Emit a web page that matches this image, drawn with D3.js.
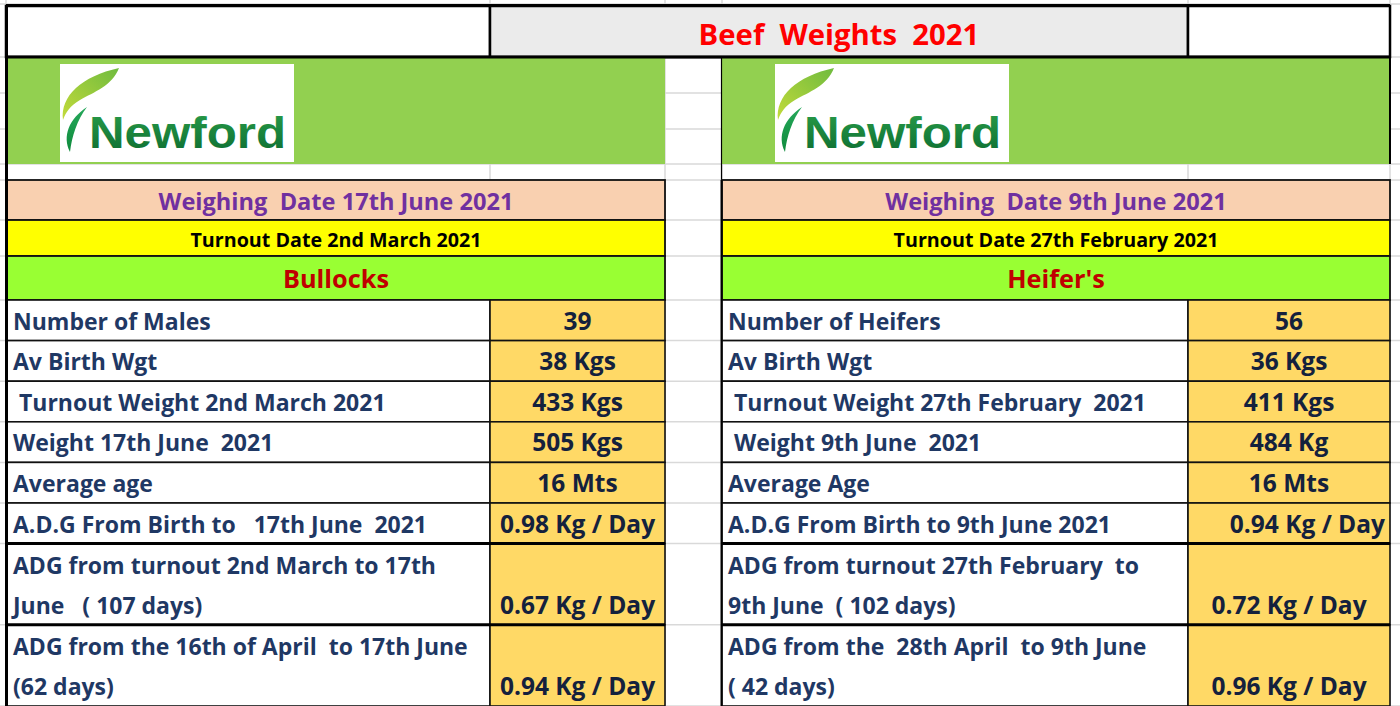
<!DOCTYPE html>
<html><head><meta charset="utf-8">
<script src="https://cdn.jsdelivr.net/npm/d3@7"></script>
<style>
body{margin:0;background:#fff;}
svg{display:block;}
text{font-family:"Open Sans",Lato,sans-serif;font-weight:700;white-space:pre;}
</style>
</head><body>
<svg id="c" width="1400" height="706"></svg>
<script>
// ---------- data ----------
const title = "Beef  Weights  2021";
const logoText = "Newford";
const groups = ["Bullocks", "Heifer's"];
const weighingDates = ["Weighing  Date 17th June 2021", "Weighing  Date 9th June 2021"];
const turnoutDates = ["Turnout Date 2nd March 2021", "Turnout Date 27th February 2021"];
const bullockLabels = [
  ["Number of Males"],
  ["Av Birth Wgt"],
  [" Turnout Weight 2nd March 2021"],
  ["Weight 17th June  2021"],
  ["Average age"],
  ["A.D.G From Birth to   17th June  2021"],
  ["ADG from turnout 2nd March to 17th", "June   ( 107 days)"],
  ["ADG from the 16th of April  to 17th June", "(62 days)"]
];
const bullockValues = ["39", "38 Kgs", "433 Kgs", "505 Kgs", "16 Mts", "0.98 Kg / Day", "0.67 Kg / Day", "0.94 Kg / Day"];
const heiferLabels = [
  ["Number of Heifers"],
  ["Av Birth Wgt"],
  [" Turnout Weight 27th February  2021"],
  [" Weight 9th June  2021"],
  ["Average Age"],
  ["A.D.G From Birth to 9th June 2021"],
  ["ADG from turnout 27th February  to", "9th June  ( 102 days)"],
  ["ADG from the  28th April  to 9th June", "( 42 days)"]
];
const heiferValues = ["56", "36 Kgs", "411 Kgs", "484 Kg", "16 Mts", "0.94 Kg / Day", "0.72 Kg / Day", "0.96 Kg / Day"];
const rowSpans = [1, 1, 1, 1, 1, 1, 2, 2];

// ---------- layout ----------
const svg = d3.select("#c");
const W = 1400, H = 706;
const navy = "#1f3864";
const panels = [
  {x0: 7, split: 490, x1: 665, labels: bullockLabels, values: bullockValues, logoX: 60, endAlign: []},
  {x0: 722, split: 1188, x1: 1390, labels: heiferLabels, values: heiferValues, logoX: 775, endAlign: [5]}
];
panels.forEach((p, i) => { p.group = groups[i]; p.weigh = weighingDates[i]; p.turn = turnoutDates[i]; });

const rowStarts = [0, ...d3.cumsum(rowSpans)];
const yRow = d3.scaleLinear().domain([0, d3.sum(rowSpans)]).range([300, 706]);

// background spreadsheet gridlines
const gridY = [4, 57, 93, 129, 164, 180, 220, 256, ...rowStarts.map(yRow)];
const gridX = [6, 490, 665, 722, 1188, 1390];
svg.append("g").selectAll("line.h").data(gridY).join("line")
  .attr("x1", 0).attr("x2", W).attr("y1", d => d).attr("y2", d => d)
  .attr("stroke", "#d9d9d9").attr("stroke-width", 1.5);
svg.append("g").selectAll("line.v").data(gridX).join("line")
  .attr("y1", 0).attr("y2", H).attr("x1", d => d).attr("x2", d => d)
  .attr("stroke", "#d9d9d9").attr("stroke-width", 1.5);

// top title row
const topCells = [[6, 490, "#ffffff"], [490, 1188, "#ebebeb"], [1188, 1390, "#ffffff"]];
svg.append("g").selectAll("rect").data(topCells).join("rect")
  .attr("x", d => d[0]).attr("y", 6).attr("width", d => d[1] - d[0]).attr("height", 51)
  .attr("fill", d => d[2]).attr("stroke", "#000").attr("stroke-width", 2.5);
svg.append("text").attr("x", 839).attr("y", 45).attr("text-anchor", "middle")
  .attr("font-size", 29.3).attr("fill", "#ff0000").text(title);

// gradients for logo
const defs = svg.append("defs");
const g1 = defs.append("linearGradient").attr("id", "txtGrad").attr("x1", 0).attr("y1", 0).attr("x2", 0).attr("y2", 1);
g1.append("stop").attr("offset", "0%").attr("stop-color", "#2a9f4a");
g1.append("stop").attr("offset", "100%").attr("stop-color", "#0b6a30");
const g2 = defs.append("linearGradient").attr("id", "leafTop").attr("x1", 0).attr("y1", 1).attr("x2", 1).attr("y2", 0);
g2.append("stop").attr("offset", "0%").attr("stop-color", "#c2da3a");
g2.append("stop").attr("offset", "100%").attr("stop-color", "#6fbb3f");
const g3 = defs.append("linearGradient").attr("id", "leafBot").attr("x1", 0).attr("y1", 1).attr("x2", 0).attr("y2", 0);
g3.append("stop").attr("offset", "0%").attr("stop-color", "#0f8a3c");
g3.append("stop").attr("offset", "100%").attr("stop-color", "#25a85a");

const P = svg.selectAll("g.panel").data(panels).join("g").attr("class", "panel");

// green logo band
P.append("rect").attr("x", d => d.x0).attr("y", 58).attr("width", d => d.x1 - d.x0).attr("height", 106)
  .attr("fill", "#92d050");
const logo = P.append("g").attr("transform", d => `translate(${d.logoX},64)`);
logo.append("rect").attr("width", 234).attr("height", 98).attr("fill", "#fff");
logo.append("path").attr("d", "M3,56 C0,32 22,12 59,4 C52,22 34,28 20,36 C10,42 6,48 3,56 Z").attr("fill", "url(#leafTop)");
logo.append("path").attr("d", "M27,43 C9,55 2,72 10,88 C12,72 17,56 27,43 Z").attr("fill", "url(#leafBot)");
logo.append("text").attr("x", 29).attr("y", 84)
  .attr("font-size", 45).attr("textLength", 197).attr("lengthAdjust", "spacingAndGlyphs")
  .attr("fill", "url(#txtGrad)").style("font-family", "'Liberation Sans',Arial,sans-serif").text(logoText);

// left border of panel in logo/white area
P.append("line").attr("x1", d => d.x0 - 0.5).attr("x2", d => d.x0 - 0.5).attr("y1", 57).attr("y2", 180)
  .attr("stroke", "#000").attr("stroke-width", d => d.x0 < 100 ? 2.5 : 1.2);

// header rows
const headers = [
  {y0: 180, y1: 220, fill: "#f9d0b0", key: "weigh", size: 23.6, color: "#7030a0", base: 210},
  {y0: 220, y1: 256, fill: "#ffff00", key: "turn", size: 19.7, color: "#000000", base: 247},
  {y0: 256, y1: 300, fill: "#99ff33", key: "group", size: 25.3, color: "#c00000", base: 288}
];
headers.forEach(h => {
  P.append("rect").attr("x", d => d.x0).attr("y", h.y0).attr("width", d => d.x1 - d.x0).attr("height", h.y1 - h.y0)
    .attr("fill", h.fill).attr("stroke", "#111").attr("stroke-width", 1.8);
  P.append("text").attr("x", d => (d.x0 + d.x1) / 2).attr("y", h.base).attr("text-anchor", "middle")
    .attr("font-size", h.size).attr("fill", h.color).text(d => d[h.key]);
});

// data rows
P.each(function(p) {
  const g = d3.select(this);
  const rows = p.labels.map((lab, i) => ({lab, val: p.values[i], y0: yRow(rowStarts[i]), y1: yRow(rowStarts[i + 1]), i}));
  const r = g.selectAll("g.row").data(rows).join("g").attr("class", "row");
  r.append("rect").attr("x", p.x0).attr("y", d => d.y0).attr("width", p.split - p.x0).attr("height", d => d.y1 - d.y0)
    .attr("fill", "#fff").attr("stroke", "#111").attr("stroke-width", 1.6);
  r.append("rect").attr("x", p.split).attr("y", d => d.y0).attr("width", p.x1 - p.split).attr("height", d => d.y1 - d.y0)
    .attr("fill", "#ffd966").attr("stroke", "#111").attr("stroke-width", 1.6);
  r.each(function(d) {
    const n = d.lab.length;
    d3.select(this).selectAll("text.lab").data(d.lab).join("text").attr("class", "lab")
      .attr("x", p.x0 + 6).attr("y", (t, k) => d.y1 - 11 - (n - 1 - k) * 40)
      .attr("font-size", 23).attr("fill", navy).text(t => t);
  });
  r.append("text")
    .attr("x", d => p.endAlign.includes(d.i) ? p.x1 - 5 : (p.split + p.x1) / 2)
    .attr("text-anchor", d => p.endAlign.includes(d.i) ? "end" : "middle")
    .attr("y", d => d.y1 - 11).attr("font-size", 24.5).attr("fill", "#14213d").text(d => d.val);
  // thick lines
  const thick = [rowStarts[6], rowStarts[7]].map(yRow);
  g.selectAll("line.thick").data(thick).join("line").attr("class", "thick")
    .attr("x1", p.x0).attr("x2", p.x1).attr("y1", d => d).attr("y2", d => d)
    .attr("stroke", "#000").attr("stroke-width", 3);
  g.append("line").attr("x1", p.x0 - 0.5).attr("x2", p.x0 - 0.5).attr("y1", 180).attr("y2", H)
    .attr("stroke", "#000").attr("stroke-width", p.x0 < 100 ? 3 : 2);
});

// outer lines
svg.append("line").attr("x1", 6).attr("x2", 1390).attr("y1", 57).attr("y2", 57).attr("stroke", "#000").attr("stroke-width", 3);
svg.append("line").attr("x1", 6).attr("x2", 1390).attr("y1", 5.5).attr("y2", 5.5).attr("stroke", "#000").attr("stroke-width", 3);
svg.append("line").attr("x1", 6.5).attr("x2", 6.5).attr("y1", 5).attr("y2", H).attr("stroke", "#000").attr("stroke-width", 3);
svg.append("line").attr("x1", 1390).attr("x2", 1390).attr("y1", 5).attr("y2", 164).attr("stroke", "#000").attr("stroke-width", 2);
</script>
</body></html>
